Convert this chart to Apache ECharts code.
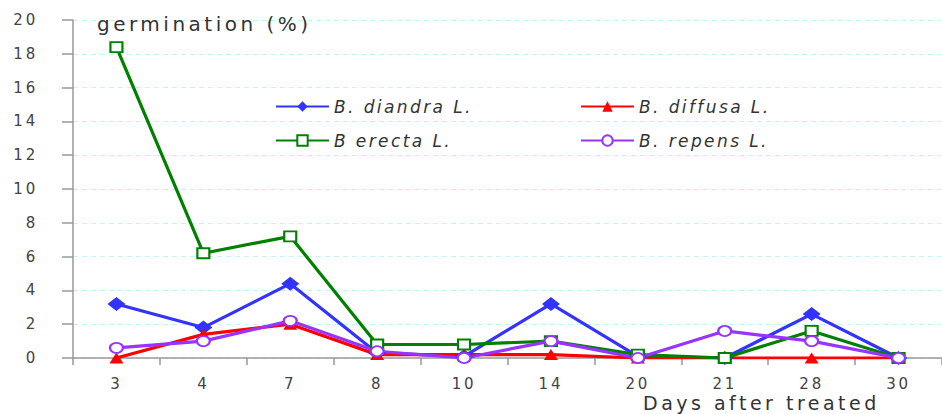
<!DOCTYPE html>
<html><head><meta charset="utf-8">
<script src="https://cdn.jsdelivr.net/npm/echarts@6/dist/echarts.min.js"></script>
<style>
html,body{margin:0;padding:0;background:#fff}#c{width:942px;height:414px}
#c text{letter-spacing:2.8px}
#c text[style*="italic"]{letter-spacing:2.4px}
#c text[style*="20px"],#c text[style*="19px"]{letter-spacing:3.5px}
</style>
</head><body><div id="c"></div>
<script>
const categories = ['3','4','7','8','10','14','20','21','28','30'];
const diandra = [3.2, 1.8, 4.4, 0.3, 0.1, 3.2, 0.1, 0, 2.6, 0];
const diffusa = [0, 1.4, 2.0, 0.2, 0.2, 0.2, 0, 0, 0, 0];
const erecta  = [18.4, 6.2, 7.2, 0.8, 0.8, 1.0, 0.2, 0, 1.6, 0];
const repens  = [0.6, 1.0, 2.2, 0.4, 0, 1.0, 0, 1.6, 1.0, 0];
const yTicks = {min: 0, max: 20, interval: 2};

const font = 'DejaVu Sans';
const chart = echarts.init(document.getElementById('c'), null, {renderer: 'svg'});
function ser(name, data, color, symbol, size, fill) {
  return {
    name, type: 'line', data, symbol, symbolSize: size,
    lineStyle: {color, width: 3.2},
    itemStyle: {color: fill ? color : '#fff', borderColor: color, borderWidth: fill ? 0 : 2},
    emphasis: {disabled: true}, animation: false
  };
}
const legendText = {fontFamily: font, fontSize: 17, fontStyle: 'italic', color: '#333'};
chart.setOption({
  animation: false,
  grid: {left: 73, top: 20, width: 877, bottom: 56, containLabel: false},
  title: [
    {text: 'germination (%)', left: 92, top: 9, textStyle: {fontFamily: font, fontSize: 20, fontWeight: 'normal', color: '#333'}},
    {text: 'Days after treated', left: 643, top: 393, padding: 0, textStyle: {fontFamily: font, fontSize: 19, lineHeight: 20, fontWeight: 'normal', color: '#333'}}
  ],
  legend: [
    {data: ['B. diandra L.', 'B erecta L.'], orient: 'vertical', left: 275, top: 98, padding: 0, itemGap: 17, itemWidth: 53, itemHeight: 13, textStyle: legendText},
    {data: ['B. diffusa L.', 'B. repens L.'], orient: 'vertical', left: 580, top: 98, padding: 0, itemGap: 17, itemWidth: 53, itemHeight: 13, textStyle: legendText}
  ],
  xAxis: {
    type: 'category', data: categories, boundaryGap: true,
    axisLine: {lineStyle: {color: '#999', width: 1.5}},
    axisTick: {show: true, length: 7, inside: false, lineStyle: {color: '#999', width: 1.5}},
    axisLabel: {fontFamily: font, fontSize: 15, lineHeight: 15, color: '#444', margin: 18},
    splitLine: {show: false}
  },
  yAxis: {
    type: 'value', min: yTicks.min, max: yTicks.max, interval: yTicks.interval,
    axisLine: {show: true, lineStyle: {color: '#999', width: 1.5}},
    axisTick: {show: true, length: 11, lineStyle: {color: '#999', width: 1.5}},
    axisLabel: {fontFamily: font, fontSize: 15, color: '#444', margin: 35},
    splitLine: {show: true, lineStyle: {color: '#c6f3f3', type: [5, 4], width: 1}}
  },
  series: [
    ser('B. diandra L.', diandra, '#3333ff', 'diamond', [18, 14], true),
    ser('B. diffusa L.', diffusa, '#ff0000', 'triangle', [14, 11], true),
    ser('B erecta L.', erecta, '#008000', 'rect', [12, 10], false),
    ser('B. repens L.', repens, '#9933ff', 'circle', [13, 10], false)
  ]
});
</script></body></html>
